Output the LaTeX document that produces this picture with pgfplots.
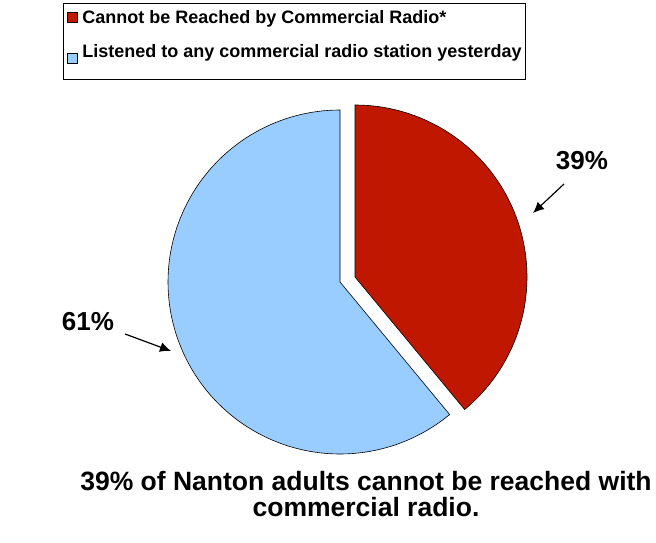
\documentclass[border=0pt]{standalone}
\usepackage{pgfplots}
\pgfplotsset{compat=1.18}
\usepackage{pgfplotstable}
\usepackage{fontspec}
\setmainfont{Liberation Sans}[BoldFont={Liberation Sans Bold}]
\usetikzlibrary{arrows.meta}
\definecolor{pieRed}{HTML}{C01800}
\definecolor{pieBlue}{HTML}{99CCFF}
% share (percent) of each slice
\pgfplotstableread{
label share
Cannot 39
Listened 61
}\piedata
\pgfplotstablegetelem{0}{share}\of\piedata\let\shareA\pgfplotsretval
\pgfplotstablegetelem{1}{share}\of\piedata\let\shareB\pgfplotsretval
\pgfmathsetmacro{\angA}{90-3.6*\shareA}
\pgfmathsetmacro{\angB}{\angA-3.6*\shareB}
\begin{document}
\begin{tikzpicture}
\begin{axis}[
  width=656bp, height=543bp, scale only axis,
  xmin=0, xmax=656, ymin=0, ymax=543,
  hide axis, clip=false,
  legend style={at={(axis cs:63,540)}, anchor=north west, draw=black, line width=0.8pt,
    font=\fontsize{18bp}{21bp}\selectfont\bfseries, row sep=16bp, inner xsep=2bp, inner ysep=5bp,
    cells={anchor=west}},
  legend image code/.code={\path[draw=none,fill=none] (0bp,-1bp) rectangle (15bp,1bp);\draw[#1,draw=black,line width=0.6pt] (2bp,-5bp) rectangle (12bp,5bp);},
]
\path (axis cs:0,0) rectangle (axis cs:656,543);
\addplot[fill=pieRed, draw=black, line width=0.6pt, domain=90:\angA, samples=90]
  ({355+172*cos(x)},{266+172*sin(x)}) -- (axis cs:355,266) -- cycle;
\addlegendentry{Cannot be Reached by Commercial Radio*}
\addplot[fill=pieBlue, draw=black, line width=0.6pt, domain=\angA:\angB, samples=120,
  legend image code/.code={\path[draw=none,fill=none] (0bp,-16bp) rectangle (15bp,5bp);\draw[fill=pieBlue,draw=black,line width=0.6pt] (2bp,-5bp) rectangle (12bp,5bp);}]
  ({340+172*cos(x)},{261+172*sin(x)}) -- (axis cs:340,261) -- cycle;
\addlegendentry[text depth=13bp]{Listened to any commercial radio station yesterday}
\node[font=\fontsize{26bp}{30bp}\selectfont\bfseries] at (axis cs:582,382) {39\%};
\node[font=\fontsize{26bp}{30bp}\selectfont\bfseries] at (axis cs:88,221) {61\%};
\draw[line width=1.2pt, -{Latex[length=11bp,width=10bp]}] (axis cs:564,359) -- (axis cs:533,330);
\draw[line width=1.2pt, -{Latex[length=11bp,width=10bp]}] (axis cs:125,209) -- (axis cs:171,192);
\node[font=\fontsize{26.5bp}{26bp}\selectfont\bfseries, align=center] at (axis cs:366,49)
  {39\% of Nanton adults cannot be reached with\\commercial radio.};
\end{axis}
\end{tikzpicture}
\end{document}
